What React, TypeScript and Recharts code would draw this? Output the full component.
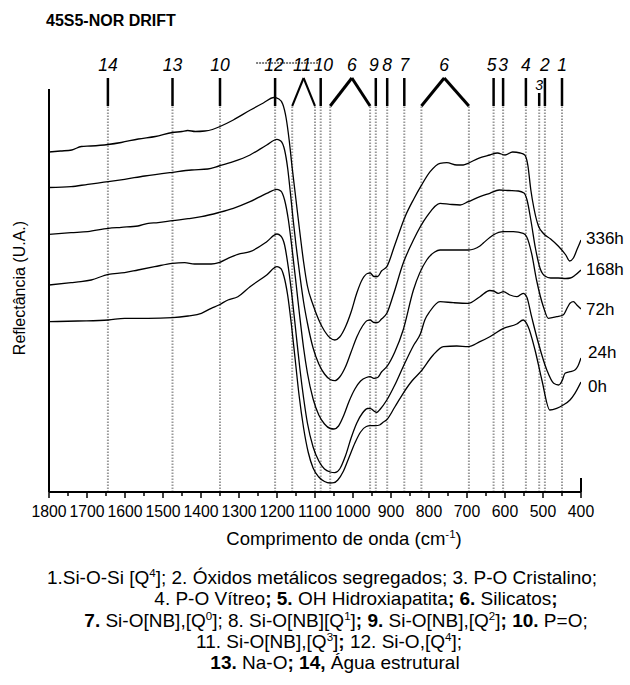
import React from 'react';
import { LineChart, Line, XAxis, YAxis, ReferenceLine, ReferenceDot } from 'recharts';

// Reflectance in arbitrary units (0 = bottom axis), per wavenumber (cm-1)
const WN_336 = [1800, 1770, 1740, 1715, 1690, 1645, 1610, 1565, 1520, 1475, 1450, 1435, 1415, 1390, 1370, 1350, 1315, 1270, 1236, 1208, 1195, 1185, 1176, 1168, 1160, 1150, 1140, 1130, 1120, 1105, 1090, 1075, 1060, 1048, 1035, 1020, 1005, 990, 975, 962, 955, 945, 935, 925, 911, 890, 863, 840, 822, 797, 771, 753, 727, 710, 697, 670, 640, 620, 600, 580, 560, 548, 540, 532, 524, 512, 500, 480, 460, 440, 430, 420, 410, 400];
const R_336 = [340, 341, 342, 345.5, 346, 347.5, 349.5, 353, 355.5, 359.5, 360.5, 361.5, 360.5, 361, 362.5, 365.5, 372, 382, 389, 394.5, 393, 388, 374, 352, 324, 292, 260, 230, 206, 187, 172, 161, 154, 152, 155, 165, 180, 199, 213, 218.5, 219, 215.5, 215.5, 221, 225.3, 247, 275.3, 293, 305.3, 320.3, 328.7, 329.3, 327, 327, 328.7, 333.7, 337, 339, 337, 340, 339, 337, 327, 302, 284, 266, 259, 253, 246, 237, 231, 234, 243, 252];

const WN_168 = [1800, 1742, 1698, 1644, 1601, 1548, 1475, 1425, 1382, 1353, 1315, 1271, 1227, 1200, 1190, 1180, 1172, 1165, 1158, 1150, 1140, 1130, 1120, 1105, 1090, 1075, 1060, 1048, 1035, 1020, 1005, 990, 975, 962, 955, 945, 935, 925, 911, 894, 868, 841, 806, 771, 745, 718, 697, 666, 640, 615, 590, 565, 550, 542, 532, 520, 508, 495, 480, 460, 440, 428, 415, 400];
const R_168 = [304.5, 305.3, 307.7, 310.3, 312.7, 316, 319.7, 322, 323, 326, 330.3, 337, 347, 352.7, 351, 342, 324, 300, 274, 247, 217, 190, 169, 144, 128, 118, 112.5, 111.3, 115, 125, 140, 155, 166, 171.5, 172, 169.5, 169.5, 173, 178.7, 197, 228.7, 252, 275.3, 288.7, 287.7, 287, 290.3, 295.3, 298.7, 302, 301.5, 301, 299, 292, 272, 244, 224, 216, 214, 214, 213.5, 214, 217, 222];

const WN_72 = [1800, 1742, 1698, 1644, 1610, 1566, 1539, 1513, 1475, 1434, 1399, 1353, 1315, 1271, 1227, 1200, 1190, 1180, 1170, 1160, 1150, 1140, 1130, 1120, 1105, 1090, 1075, 1060, 1050, 1038, 1025, 1010, 995, 980, 965, 955, 945, 935, 925, 911, 890, 868, 841, 806, 785, 771, 736, 697, 666, 657, 631, 604, 578, 552, 543, 530, 517, 499, 486, 464, 447, 435, 429, 420, 411, 400];
const R_72 = [257.7, 259.3, 260.3, 263.7, 264.7, 266, 268.7, 269.3, 271.3, 273.3, 275.3, 279.5, 283.7, 290.3, 298.7, 302.7, 301, 292, 272, 242, 209, 175, 144, 119, 93, 77, 68, 63.5, 63, 66, 76, 91, 103, 111, 114.5, 115.3, 113.7, 114.5, 120, 125.3, 140, 162, 202, 232, 240, 242, 242, 242, 246, 249, 257, 260.3, 260.3, 258.7, 255.3, 238.7, 212, 185.3, 173.7, 175.3, 177, 185, 188.7, 190.3, 187, 183];

const WN_24 = [1800, 1742, 1716, 1689, 1644, 1601, 1566, 1522, 1475, 1443, 1417, 1373, 1353, 1329, 1303, 1271, 1227, 1200, 1190, 1180, 1170, 1160, 1150, 1140, 1130, 1120, 1105, 1090, 1075, 1060, 1048, 1035, 1020, 1005, 990, 975, 962, 955, 945, 938, 928, 911, 890, 868, 840, 822, 811, 797, 771, 736, 697, 666, 640, 630, 618, 604, 587, 569, 552, 543, 530, 512, 490, 472, 459, 450, 442, 429, 416, 408, 400];
const R_24 = [207, 209.3, 210.3, 212, 217.7, 219.3, 222, 225.3, 228.7, 229.3, 228, 228, 229.3, 233.7, 237.7, 240.3, 250.3, 258, 256, 247, 224, 194, 159, 124, 94, 69, 45, 31, 23, 20, 19.3, 23, 36, 54, 69, 79, 83.5, 83.7, 81, 79.5, 83, 92, 107, 125.3, 147, 158.7, 172, 181, 190.3, 189.3, 188.7, 195.3, 201.5, 201, 198.7, 200.3, 197, 195.3, 198.7, 195.3, 175.3, 148.7, 122, 108.7, 107, 111, 118.7, 120.3, 122, 126, 134];

const WN_0 = [1800, 1724, 1644, 1601, 1539, 1475, 1434, 1399, 1373, 1353, 1329, 1303, 1271, 1227, 1200, 1190, 1182, 1172, 1162, 1152, 1142, 1130, 1118, 1105, 1090, 1075, 1060, 1050, 1040, 1025, 1010, 995, 980, 965, 955, 940, 930, 920, 912, 890, 868, 845, 822, 789, 762, 727, 697, 666, 640, 604, 569, 552, 539, 521, 503, 482, 464, 447, 429, 416, 400];
const R_0 = [170.3, 171, 172, 173.7, 173.7, 174.3, 176, 178.7, 183.7, 187, 192, 195.3, 205.3, 217, 225.3, 223.5, 216, 197, 167, 132, 97, 64, 40, 24, 15, 10.5, 9, 9.3, 12, 21, 35, 49, 60, 65.5, 66.3, 66.3, 67, 70, 72, 85, 98.7, 111, 120.3, 137, 145.3, 146, 145.3, 150.3, 155.3, 163.7, 168, 172, 165.3, 142, 112, 82, 83.7, 87, 92, 98.7, 110];

const SERIES = [
  { name: '336h', wn: WN_336, r: R_336 },
  { name: '168h', wn: WN_168, r: R_168 },
  { name: '72h', wn: WN_72, r: R_72 },
  { name: '24h', wn: WN_24, r: R_24 },
  { name: '0h', wn: WN_0, r: R_0 },
];

// band positions (dotted guides)
const BANDS = [1645, 1475, 1350, 1205, 1160, 1100, 1085, 1060, 955, 940, 910, 865, 820, 695, 630, 605, 545, 510, 495, 450];
// single band markers with their numbers (label position may sit a little off the band)
const MARK_WN = [1645, 1475, 1350, 1205, 1085, 940, 910, 865, 630, 605, 545, 495, 450];
const MARK_LBL_WN = [1645, 1475, 1350, 1208, 1078, 945, 910, 865, 635, 605, 545, 495, 450];
const MARK_TXT = ['14', '13', '10', '12', '10', '9', '8', '7', '5', '3', '4', '2', '1'];
// chevron markers: left foot, apex, right foot
const CHEVRONS = [
  { txt: '11', pts: [1160, 1130, 1100], lbl: 1134, w: 2 },
  { txt: '6', pts: [1060, 1003, 955], lbl: 1003, w: 3 },
  { txt: '6', pts: [820, 760, 695], lbl: 760, w: 3 },
];

const X_TICKS = [1800, 1750, 1700, 1650, 1600, 1550, 1500, 1450, 1400, 1350, 1300, 1250, 1200, 1150, 1100, 1050, 1000, 950, 900, 850, 800, 750, 700, 650, 600, 550, 500, 450, 400];

type Seg = { t: string; b?: boolean; sup?: boolean };
const CAPTION: { x: number; segs: Seg[] }[] = [
  { x: 322, segs: [{ t: '1.Si-O-Si [Q' }, { t: '4', sup: true }, { t: ']; 2. Óxidos metálicos segregados; 3. P-O Cristalino;' }] },
  { x: 356, segs: [{ t: '4. P-O Vítreo' }, { t: '; 5.', b: true }, { t: ' OH Hidroxiapatita' }, { t: '; 6.', b: true }, { t: ' Silicatos' }, { t: ';', b: true }] },
  { x: 336, segs: [{ t: '7.', b: true }, { t: ' Si-O[NB],[Q' }, { t: '0', sup: true }, { t: ']; 8. Si-O[NB][Q' }, { t: '1', sup: true }, { t: ']' }, { t: '; 9.', b: true }, { t: ' Si-O[NB],[Q' }, { t: '2', sup: true }, { t: ']' }, { t: '; 10.', b: true }, { t: ' P=O;' }] },
  { x: 329, segs: [{ t: '11. Si-O[NB],[Q' }, { t: '3', sup: true }, { t: ']' }, { t: ';', b: true }, { t: ' 12. Si-O,[Q' }, { t: '4', sup: true }, { t: '];' }] },
  { x: 335, segs: [{ t: '13.', b: true }, { t: ' Na-O' }, { t: '; 14,', b: true }, { t: ' Água estrutural' }] },
];

const FONT = '"Liberation Sans", Arial, sans-serif';
const TOP_Y = 432;
const GUIDE_TOP = 386;
const MARK_TOP = 414;
const LABEL_Y = 421;

const renderSegs = (segs: Seg[], supSize: number, rise: number) => {
  let up = false;
  return segs.map((s, i) => {
    let dy: number | undefined;
    if (s.sup && !up) { dy = -rise; up = true; }
    else if (!s.sup && up) { dy = rise; up = false; }
    return (
      <tspan key={i} dy={dy} fontWeight={s.b ? 'bold' : 'normal'} fontSize={s.sup ? supSize : undefined}>
        {s.t}
      </tspan>
    );
  });
};

const XTick = (props: any) => {
  const { x, y, payload } = props;
  const major = payload.value % 100 === 0;
  return (
    <g>
      <line x1={x} y1={y} x2={x} y2={y + (major ? 6 : 4)} stroke="#000" strokeWidth={1.5} />
      {major && (
        <text x={x} y={y + 25} textAnchor="middle" fontSize={15.8} fontFamily={FONT} fill="#000">
          {payload.value}
        </text>
      )}
    </g>
  );
};

const markLabel = (txt: string, size = 17.5) => (p: any) => (
  <text x={p.cx} y={p.cy} textAnchor="middle" fontSize={size} fontStyle="italic" fontFamily={FONT} fill="#000">
    {txt}
  </text>
);

export default function App() {
  return (
    <div style={{ position: 'absolute', left: 0, top: 0, width: 630, height: 685, background: '#fff' }}>
      <LineChart width={630} height={685} margin={{ top: 60, right: 49, bottom: 163, left: 49 }}>
        <XAxis
          type="number"
          dataKey="wn"
          domain={[400, 1800]}
          reversed
          ticks={X_TICKS}
          interval={0}
          tickSize={0}
          tickMargin={0}
          tickLine={false}
          tick={<XTick />}
          axisLine={{ stroke: '#000', strokeWidth: 2 }}
          allowDataOverflow
        />
        <YAxis hide type="number" domain={[0, TOP_Y]} allowDataOverflow />

        {BANDS.map((b) => (
          <ReferenceLine
            key={`g${b}`}
            segment={[{ x: b, y: 0 }, { x: b, y: GUIDE_TOP }]}
            stroke="#999"
            strokeWidth={2}
            strokeDasharray="1.5 1.5"
          />
        ))}

        {/* left axis and right stub */}
        <ReferenceLine segment={[{ x: 1800, y: 0 }, { x: 1800, y: 403 }]} stroke="#000" strokeWidth={2} />
        <ReferenceLine segment={[{ x: 400, y: 0 }, { x: 400, y: 14 }]} stroke="#000" strokeWidth={2} />

        {MARK_WN.map((b, i) => (
          <ReferenceLine key={`m${i}`} segment={[{ x: b, y: GUIDE_TOP }, { x: b, y: MARK_TOP }]} stroke="#000" strokeWidth={2.5} />
        ))}
        {MARK_LBL_WN.map((b, i) => (
          <ReferenceDot key={`t${i}`} x={b} y={LABEL_Y} r={0} shape={markLabel(MARK_TXT[i])} />
        ))}

        {/* short marker 3 at 510 */}
        <ReferenceLine segment={[{ x: 510, y: GUIDE_TOP }, { x: 510, y: 399 }]} stroke="#000" strokeWidth={2.5} />
        <ReferenceDot x={510} y={402} r={0} shape={markLabel('3', 14)} />

        {CHEVRONS.map((c, i) => (
          <ReferenceLine key={`ca${i}`} segment={[{ x: c.pts[0], y: GUIDE_TOP }, { x: c.pts[1], y: MARK_TOP }]} stroke="#000" strokeWidth={c.w} />
        ))}
        {CHEVRONS.map((c, i) => (
          <ReferenceLine key={`cb${i}`} segment={[{ x: c.pts[1], y: MARK_TOP }, { x: c.pts[2], y: GUIDE_TOP }]} stroke="#000" strokeWidth={c.w} />
        ))}
        {CHEVRONS.map((c, i) => (
          <ReferenceDot key={`ct${i}`} x={c.lbl} y={LABEL_Y} r={0} shape={markLabel(c.txt)} />
        ))}
        <ReferenceLine segment={[{ x: 1255, y: 429 }, { x: 1090, y: 429 }]} stroke="#000" strokeWidth={1} strokeDasharray="2 1" />

        {SERIES.map((s) => (
          <Line
            key={s.name}
            data={s.wn.map((w, i) => ({ wn: w, r: s.r[i] }))}
            dataKey="r"
            type="monotone"
            stroke="#000"
            strokeWidth={1.3}
            dot={false}
            activeDot={false}
            isAnimationActive={false}
          />
        ))}
      </LineChart>

      <svg width={630} height={685} style={{ position: 'absolute', left: 0, top: 0, pointerEvents: 'none' }} fontFamily={FONT}>
        <text x={46} y={26} fontSize={16} fontWeight="bold">45S5-NOR DRIFT</text>
        <text transform="translate(25,288) rotate(-90)" textAnchor="middle" fontSize={16}>Reflectância (U.A.)</text>
        <text x={344} y={545} textAnchor="middle" fontSize={18.5}>
          Comprimento de onda (cm<tspan dy={-7} fontSize={11.5}>-1</tspan><tspan dy={7}>)</tspan>
        </text>

        <text x={586} y={244} fontSize={17}>336h</text>
        <text x={586} y={275} fontSize={17}>168h</text>
        <text x={586} y={315} fontSize={17}>72h</text>
        <text x={588} y={358} fontSize={17}>24h</text>
        <text x={588} y={392} fontSize={17}>0h</text>

        <g fontSize={19} style={{ whiteSpace: 'pre' }}>
          {CAPTION.map((line, i) => (
            <text key={i} x={line.x} y={584 + i * 21.3} textAnchor="middle">
              {renderSegs(line.segs, 11.5, 7)}
            </text>
          ))}
        </g>
      </svg>
    </div>
  );
}
